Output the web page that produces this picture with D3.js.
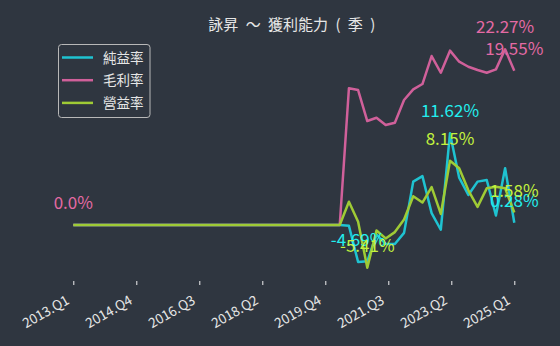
<!DOCTYPE html>
<html>
<head>
<meta charset="utf-8">
<script src="https://cdn.jsdelivr.net/npm/d3@7"></script>
<style>
  body { margin: 0; background: #2f3640; }
  svg { display: block; font-family: "Noto Sans CJK TC", sans-serif; }
</style>
</head>
<body>
<svg id="chart" width="560" height="346"></svg>
<script>
const quarters = [
  '2013.Q1', '2013.Q2', '2013.Q3', '2013.Q4', '2014.Q1', '2014.Q2', '2014.Q3', '2014.Q4',
  '2015.Q1', '2015.Q2', '2015.Q3', '2015.Q4', '2016.Q1', '2016.Q2', '2016.Q3', '2016.Q4',
  '2017.Q1', '2017.Q2', '2017.Q3', '2017.Q4', '2018.Q1', '2018.Q2', '2018.Q3', '2018.Q4',
  '2019.Q1', '2019.Q2', '2019.Q3', '2019.Q4', '2020.Q1', '2020.Q2', '2020.Q3', '2020.Q4',
  '2021.Q1', '2021.Q2', '2021.Q3', '2021.Q4', '2022.Q1', '2022.Q2', '2022.Q3', '2022.Q4',
  '2023.Q1', '2023.Q2', '2023.Q3', '2023.Q4', '2024.Q1', '2024.Q2', '2024.Q3', '2024.Q4',
  '2025.Q1'
];
// ticks land on the rounded index of 8 evenly spaced positions
const tickLabels = ['2013.Q1', '2014.Q4', '2016.Q3', '2018.Q2', '2019.Q4', '2021.Q3', '2023.Q2', '2025.Q1'];

const zeros30 = [0, 0, 0, 0, 0, 0, 0, 0, 0, 0, 0, 0, 0, 0, 0, 0, 0, 0, 0, 0, 0, 0, 0, 0, 0, 0, 0, 0, 0, 0];
const netMargin = zeros30.concat([
  -0.1, -4.69, -4.6, -1.2, -2.4, -2.4, -1.0, 5.5, 6.2, 1.5,
  -0.6, 11.62, 6.0, 3.8, 5.5, 5.7, 1.2, 7.2, 0.28]);
const grossMargin = zeros30.concat([
  17.33, 17.11, 13.18, 13.6, 12.67, 12.97, 15.84, 17.2, 17.87, 21.42,
  19.3, 22.1, 20.7, 20.06, 19.65, 19.3, 19.73, 22.27, 19.55]);
const opMargin = zeros30.concat([
  2.95, 0.42, -5.41, -0.7, -1.7, -0.9, 0.7, 3.65, 2.85, 4.8,
  1.4, 8.15, 7.2, 4.4, 2.3, 4.65, 4.85, 4.65, 1.58]);

const seriesNames = ['純益率', '毛利率', '營益率'];
const lineColors = ['#1fc3d1', '#d0609a', '#9fcb35'];
const labelColors = ['#22eeee', '#e46aa4', '#c3f23e'];
const series = [netMargin, grossMargin, opMargin];

const plotLeft = 51.25, plotRight = 536.35, plotTop = 38.4, plotBottom = 278.6;
const svg = d3.select('#chart');

const n = quarters.length;
const xPad = (n - 1) * 0.05;
const x = d3.scaleLinear().domain([-xPad, n - 1 + xPad]).range([plotLeft, plotRight]);

const all = series.flat();
const yMin = d3.min(all), yMax = d3.max(all), yPad = (yMax - yMin) * 0.05;
const y = d3.scaleLinear().domain([yMin - yPad, yMax + yPad]).range([plotBottom, plotTop]);

// title
svg.append('text')
  .attr('x', (plotLeft + plotRight) / 2 - 2)
  .attr('y', 30)
  .attr('text-anchor', 'middle')
  .attr('fill', '#e6e6e6')
  .style('font-size', '15px')
  .style('word-spacing', '4px')
  .text('詠昇 ～ 獲利能力 ( 季 )');

// x axis (ticks only, no spine)
const tickPos = tickLabels.map((d, i) => i * (n - 1) / (tickLabels.length - 1));
const xAxis = d3.axisBottom(x)
  .tickValues(tickPos)
  .tickSize(4)
  .tickFormat((d, i) => tickLabels[i]);

const gx = svg.append('g')
  .attr('transform', 'translate(0,281)')
  .call(xAxis);
gx.select('.domain').remove();
gx.selectAll('.tick line').attr('stroke', '#f0f0f0').attr('stroke-width', 1);
gx.selectAll('.tick text')
  .attr('fill', '#e6e6e6')
  .style('font-size', '13.5px')
  .style('font-family', '"Noto Sans CJK TC", sans-serif')
  .attr('text-anchor', 'end')
  .attr('y', 0)
  .attr('dy', 0)
  .attr('transform', 'translate(-3.5,22) rotate(-30)');

// lines
const line = d3.line().x((d, i) => x(i)).y(d => y(d));
series.forEach((s, k) => {
  svg.append('path')
    .datum(s)
    .attr('fill', 'none')
    .attr('stroke', lineColors[k])
    .attr('stroke-width', 2.5)
    .attr('stroke-linejoin', 'round')
    .attr('d', line);
});

// value labels: max, min and last point of each series
const fmt = v => Number.isInteger(v) ? v.toFixed(1) : String(v);
series.forEach((s, k) => {
  const marks = [d3.maxIndex(s), d3.minIndex(s), s.length - 1];
  marks.forEach(i => {
    svg.append('text')
      .attr('x', x(i))
      .attr('y', y(s[i]) - 16)
      .attr('text-anchor', 'middle')
      .attr('fill', labelColors[k])
      .style('font-size', '17px')
      .text(fmt(s[i]) + '%');
  });
});

// legend
const legend = svg.append('g');
legend.append('rect')
  .attr('x', 58.5).attr('y', 44.5)
  .attr('width', 91.5).attr('height', 73)
  .attr('rx', 3)
  .attr('fill', '#2f3640')
  .attr('stroke', '#b8b8b8')
  .attr('stroke-width', 1);
seriesNames.forEach((name, k) => {
  const ly = 57.5 + k * 22.7;
  legend.append('line')
    .attr('x1', 62).attr('x2', 93)
    .attr('y1', ly).attr('y2', ly)
    .attr('stroke', lineColors[k])
    .attr('stroke-width', 2.5);
  legend.append('text')
    .attr('x', 103).attr('y', ly + 5)
    .attr('fill', '#e6e6e6')
    .style('font-size', '13.5px')
    .text(name);
});
</script>
</body>
</html>
